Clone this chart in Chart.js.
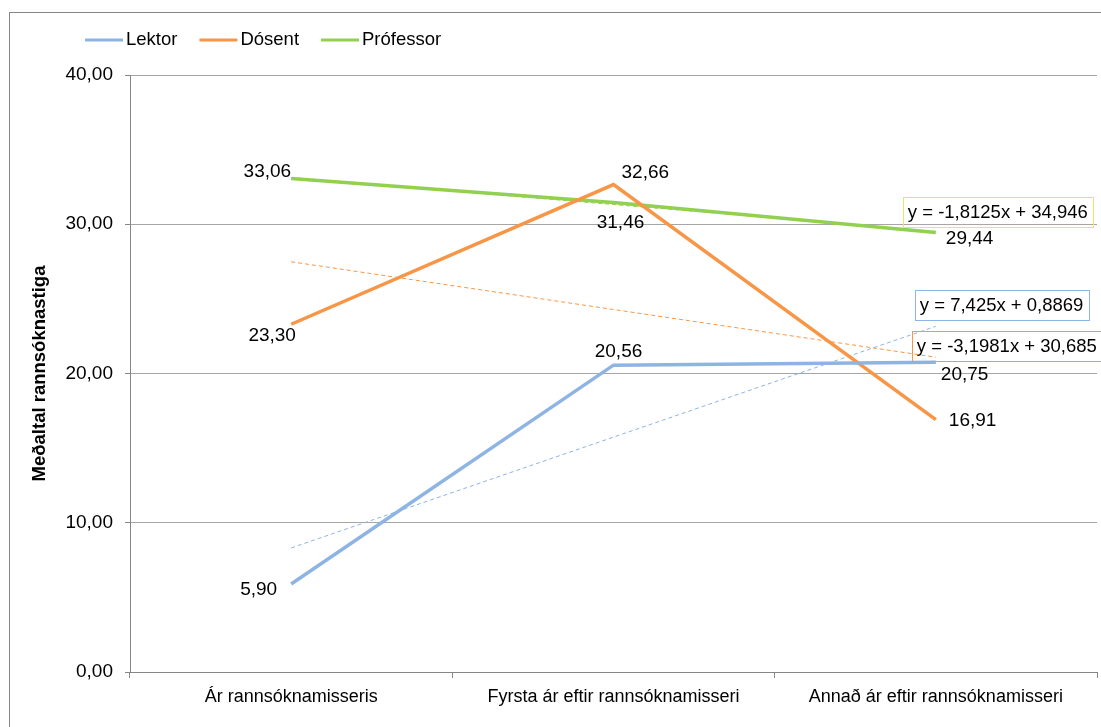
<!DOCTYPE html>
<html lang="is">
<head>
<meta charset="utf-8">
<title>Meðaltal rannsóknastiga</title>
<script src="https://cdn.jsdelivr.net/npm/chart.js@4.4.0/dist/chart.umd.min.js"></script>
<style>
  html, body { margin: 0; padding: 0; background: #fff; overflow: hidden; }
  #rammi { position: absolute; left: 9px; top: 12px; width: 1100px; height: 730px; border: 1px solid #868686; box-sizing: border-box; }
  #umgjord { position: absolute; left: 0; top: 0; width: 1101px; height: 727px; }
</style>
</head>
<body>
<div id="rammi"></div>
<div id="umgjord"><canvas id="graf"></canvas></div>
<script>
// Gögn
const flokkar = ['Ár rannsóknamisseris', 'Fyrsta ár eftir rannsóknamisseri', 'Annað ár eftir rannsóknamisseri'];
const heiti = ['Lektor', 'Dósent', 'Prófessor'];
const lektor = [5.90, 20.56, 20.75];
const dosent = [23.30, 32.66, 16.91];
const professor = [33.06, 31.46, 29.44];
// Leitnilínur: y = a*x + b, x = 1, 2, 3
const hallatolur = [7.425, -3.1981, -1.8125];
const skurdpunktar = [0.8869, 30.685, 34.946];
const asTikk = [0, 10, 20, 30, 40];

const litir = ['#8EB4E3', '#F79646', '#92D050'];
const rammalitir = ['#8EB4E3', '#F79646', '#FFD966'];
const letur = '"Liberation Sans", Arial, sans-serif';

// Staðsetning gildamerkja miðað við punkt: [dx, dy, jöfnun]
const merkjaStadir = [
    [[-14, 6, 'right'], [5, -13, 'center'], [5, 12, 'left']],
    [[-19, 12, 'center'], [8, -12, 'left'], [13, 1, 'left']],
    [[0, -7, 'right'], [7, 20, 'center'], [10, 6, 'left']]
];
// Staðsetning jöfnukassa miðað við enda leitnilínu: [dx, dy] efra vinstra horn
const jofnuStadir = [[-21, -36], [-24, -26], [-33, -35]];

function snid(v) { return v.toFixed(2).replace('.', ','); }
function tala(v) { return String(v).replace('.', ','); }
function jafna(k) {
    const b = skurdpunktar[k];
    return 'y = ' + tala(hallatolur[k]) + 'x ' + (b < 0 ? '- ' : '+ ') + tala(Math.abs(b));
}

const radir = [lektor, dosent, professor];

let gagnasett = radir.map((r, k) => ({
    label: heiti[k],
    data: r,
    borderColor: litir[k],
    backgroundColor: litir[k],
    borderWidth: 3.5,
    pointRadius: 0,
    tension: 0,
    order: 0
}));

radir.forEach((r, k) => {
    gagnasett.push({
        label: 'leitni_' + heiti[k],
        data: flokkar.map((_, i) => hallatolur[k] * (i + 1) + skurdpunktar[k]),
        borderColor: litir[k],
        borderWidth: 1,
        borderDash: [4, 3],
        pointRadius: 0,
        tension: 0,
        order: 1
    });
});

// Skýringar efst til vinstri
const skyringar = {
    id: 'skyringar',
    afterDraw(chart) {
        const ctx = chart.ctx;
        ctx.save();
        ctx.font = '18.5px ' + letur;
        ctx.textBaseline = 'middle';
        ctx.textAlign = 'left';
        let x = 85;
        const y = 40;
        heiti.forEach((h, k) => {
            ctx.fillStyle = litir[k];
            ctx.fillRect(x, y - 1.5, 38, 3);
            ctx.fillStyle = '#000';
            ctx.fillText(h, x + 41, y);
            x += 41 + ctx.measureText(h).width + 22;
        });
        ctx.restore();
    }
};

const gildaMerki = {
    id: 'gildaMerki',
    afterDatasetsDraw(chart) {
        const ctx = chart.ctx;
        ctx.save();
        ctx.font = '19px ' + letur;
        ctx.fillStyle = '#000';
        ctx.textBaseline = 'middle';
        for (let d = 0; d < 3; d++) {
            const meta = chart.getDatasetMeta(d);
            meta.data.forEach((pt, i) => {
                const [dx, dy, jofnun] = merkjaStadir[d][i];
                ctx.textAlign = jofnun;
                ctx.fillText(snid(radir[d][i]), pt.x + dx, pt.y + dy);
            });
        }
        // jöfnur leitnilína í römmum
        ctx.font = '18.5px ' + letur;
        ctx.textAlign = 'left';
        for (let k = 0; k < 3; k++) {
            const endi = chart.getDatasetMeta(3 + k).data[2];
            const x = endi.x + jofnuStadir[k][0];
            const y = endi.y + jofnuStadir[k][1];
            const texti = jafna(k);
            const b = ctx.measureText(texti).width + 10;
            ctx.strokeStyle = rammalitir[k];
            ctx.lineWidth = 1;
            ctx.strokeRect(Math.round(x) + 0.5, Math.round(y) + 0.5, Math.round(b), 30);
            ctx.fillText(texti, x + 5, y + 16);
        }
        ctx.restore();
    }
};

new Chart(document.getElementById('graf'), {
    type: 'line',
    data: { labels: flokkar, datasets: gagnasett },
    plugins: [gildaMerki, skyringar],
    options: {
        responsive: true,
        maintainAspectRatio: false,
        animation: false,
        layout: { padding: { top: 75, right: 4, left: 0, bottom: 0 } },
        plugins: {
            tooltip: { enabled: false },
            legend: { display: false }
        },
        scales: {
            x: {
                offset: true,
                afterFit: s => { s.height = 55; },
                grid: {
                    display: true,
                    offset: true,
                    drawOnChartArea: false,
                    drawTicks: true,
                    tickLength: 6,
                    color: '#868686'
                },
                border: { color: '#868686' },
                ticks: {
                    color: '#000',
                    padding: 8,
                    maxRotation: 0,
                    font: { family: letur, size: 18 }
                }
            },
            y: {
                min: 0,
                max: 40,
                afterBuildTicks: s => { s.ticks = asTikk.map(v => ({ value: v })); },
                afterFit: s => { s.width = 130; },
                grid: {
                    color: '#A6A6A6',
                    tickLength: 5,
                    tickColor: '#868686'
                },
                border: { color: '#868686' },
                ticks: {
                    color: '#000',
                    padding: 12,
                    font: { family: letur, size: 19 },
                    callback: v => snid(v)
                },
                title: {
                    display: true,
                    text: 'Meðaltal rannsóknastiga',
                    color: '#000',
                    padding: { top: 29, bottom: 0 },
                    font: { family: letur, size: 18.5, weight: 'bold' }
                }
            }
        }
    }
});
</script>
</body>
</html>
